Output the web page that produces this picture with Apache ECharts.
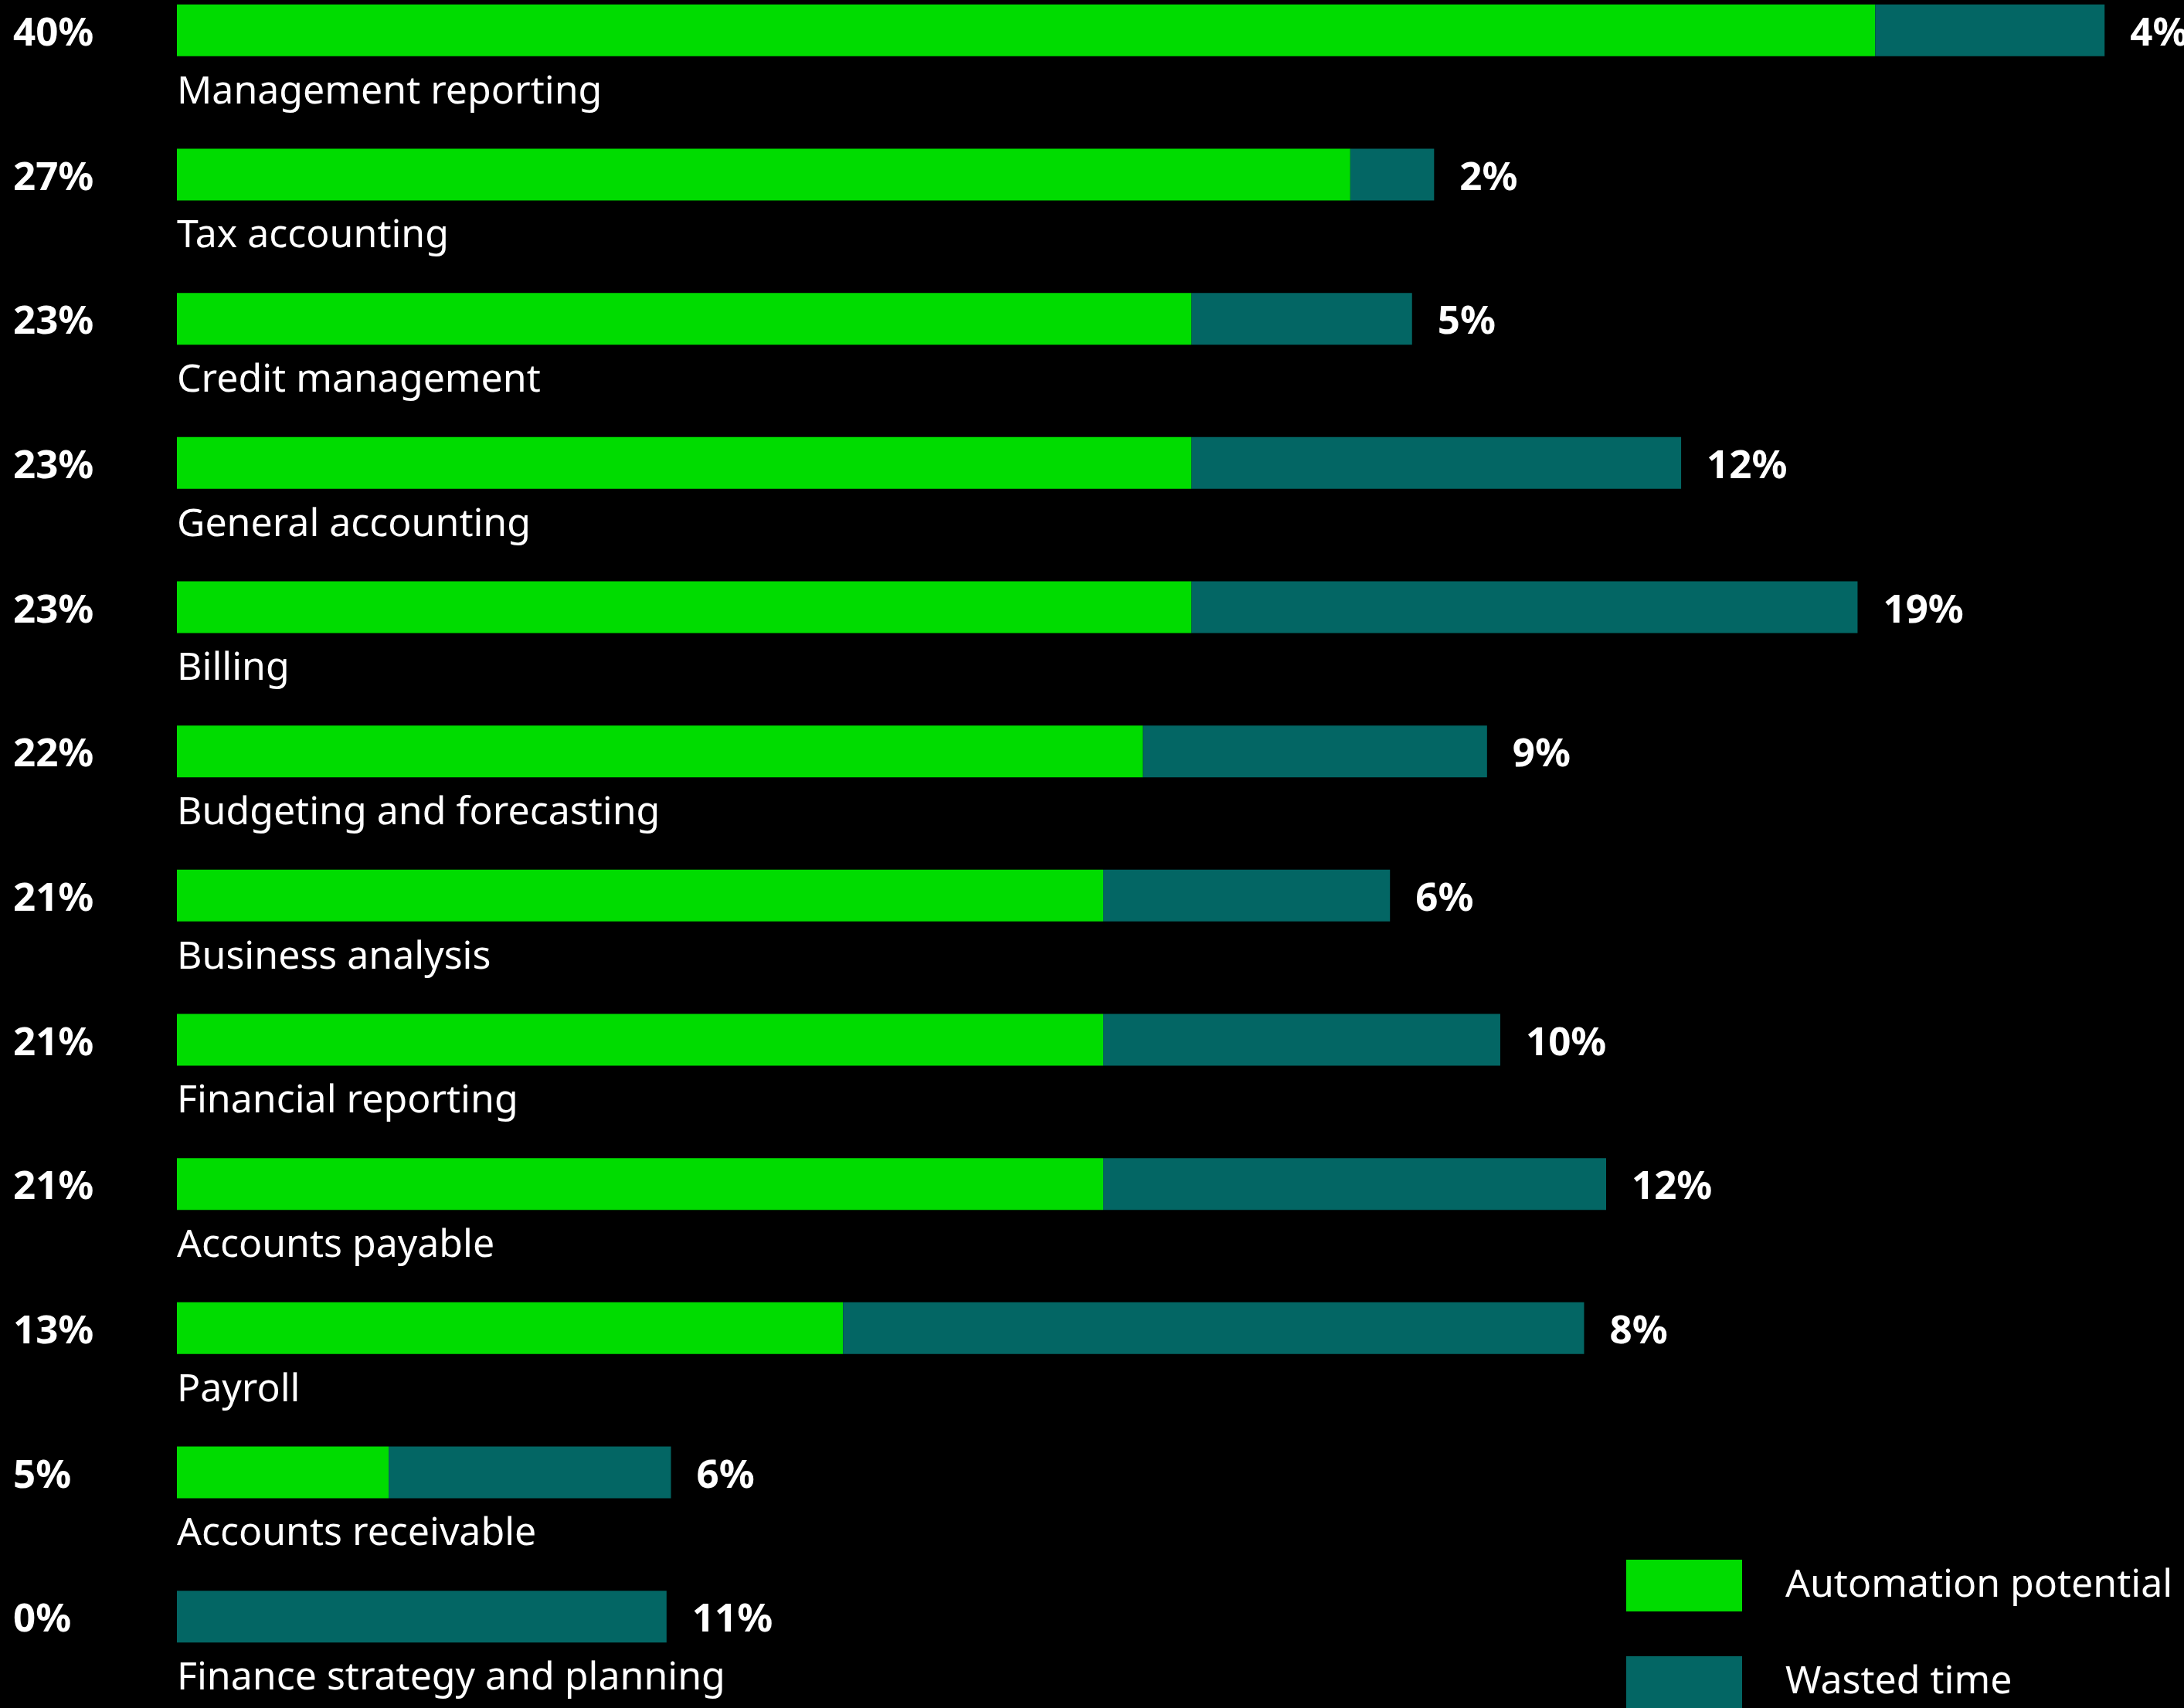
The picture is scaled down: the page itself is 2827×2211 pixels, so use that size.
<!DOCTYPE html>
<html>
<head>
<meta charset="utf-8">
<script src="https://cdn.jsdelivr.net/npm/echarts@6/dist/echarts.min.js"></script>
<style>
  html, body { margin: 0; padding: 0; background: #000; }
  #chart { width: 2827px; height: 2211px; }
</style>
</head>
<body>
<div id="chart"></div>
<script>
// categories, top to bottom
var categories = [
    'Management reporting', 'Tax accounting', 'Credit management', 'General accounting',
    'Billing', 'Budgeting and forecasting', 'Business analysis', 'Financial reporting',
    'Accounts payable', 'Payroll', 'Accounts receivable', 'Finance strategy and planning'
];

// printed values (%)
var automationLabel = [40, 27, 23, 23, 23, 22, 21, 21, 21, 13, 5, 0];
var wastedLabel = [4, 2, 5, 12, 19, 9, 6, 10, 12, 8, 6, 11];

// bar lengths as drawn in the picture (not always in scale with the printed values)
var automationDrawn = [38.5, 26.6, 23, 23, 23, 21.9, 21, 21, 21, 15.1, 4.8, 0];
var wastedDrawn = [5.2, 1.9, 5.0, 11.1, 15.1, 7.8, 6.5, 9.0, 11.4, 16.8, 6.4, 11.1];

var GREEN = '#00dc00';
var TEAL = '#036664';
var FONT = '"Noto Sans", sans-serif';

var myChart = echarts.init(document.getElementById('chart'));

var option = {
    backgroundColor: '#000000',
    animation: false,
    legend: {
        orient: 'vertical',
        left: 2105,
        top: 2019,
        height: 400,
        padding: 0,
        icon: 'rect',
        itemWidth: 150,
        itemHeight: 67,
        itemGap: 58,
        selectedMode: false,
        textStyle: {
            color: '#ffffff',
            fontSize: 50,
            fontFamily: FONT,
            padding: [4, 0, 0, 51]
        },
        data: ['Automation potential', 'Wasted time']
    },
    grid: {
        left: 229,
        right: 0,
        top: -54,
        height: 2240,
        outerBoundsMode: 'none'
    },
    xAxis: {
        type: 'value',
        min: 0,
        max: 45.5,
        show: false
    },
    yAxis: [
        {
            // category names, written under each bar
            type: 'category',
            data: categories,
            inverse: true,
            axisLine: { show: false },
            axisTick: { show: false },
            splitLine: { show: false },
            axisLabel: {
                inside: true,
                interval: 0,
                margin: 0,
                color: '#ffffff',
                fontSize: 50,
                fontFamily: FONT,
                verticalAlign: 'top',
                lineHeight: 160
            }
        },
        {
            // automation % on the far left
            type: 'category',
            data: categories,
            inverse: true,
            position: 'left',
            axisLine: { show: false },
            axisTick: { show: false },
            splitLine: { show: false },
            axisLabel: {
                interval: 0,
                margin: 212,
                align: 'left',
                color: '#ffffff',
                fontSize: 51,
                fontWeight: 'bold',
                fontFamily: FONT,
                verticalAlign: 'top',
                lineHeight: 10,
                formatter: function (v, i) {
                    return automationLabel[i] + '%';
                }
            }
        }
    ],
    series: [
        {
            name: 'Automation potential',
            type: 'bar',
            stack: 'total',
            barWidth: 67,
            itemStyle: { color: GREEN },
            data: automationDrawn
        },
        {
            name: 'Wasted time',
            type: 'bar',
            stack: 'total',
            barWidth: 67,
            itemStyle: { color: TEAL },
            label: {
                show: true,
                position: 'right',
                distance: 33,
                offset: [0, 5],
                color: '#ffffff',
                fontSize: 51,
                fontWeight: 'bold',
                fontFamily: FONT,
                formatter: function (params) {
                    return wastedLabel[params.dataIndex] + '%';
                }
            },
            data: wastedDrawn
        }
    ]
};

myChart.setOption(option);
</script>
</body>
</html>
